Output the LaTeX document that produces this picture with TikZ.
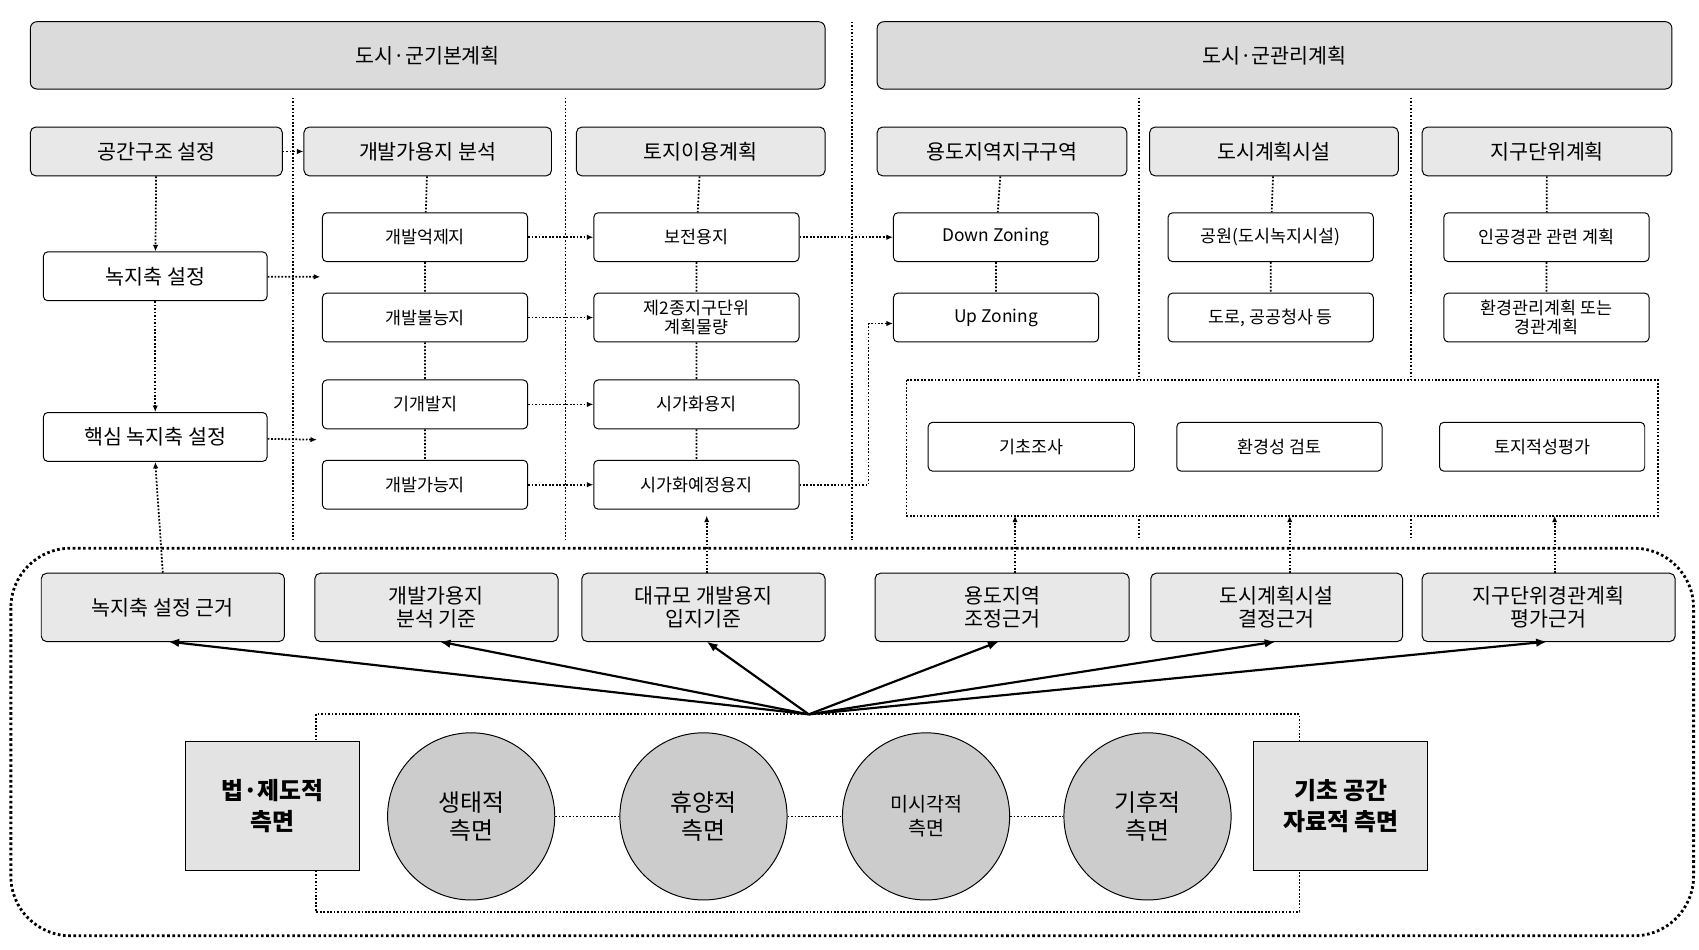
\documentclass[tikz,border=0pt]{standalone}
\usepackage{fontspec}
\setmainfont{Noto Sans CJK KR}
\usetikzlibrary{arrows.meta}
\newcommand{\B}[7]{\node[#7,minimum width={(#4)-(#2)},minimum height={(#5)-(#3)}] (#1) at ({((#2)+(#4))/2},{((#3)+(#5))/2}) {#6};}
\begin{document}
\begin{tikzpicture}[x=1pt,y=-1pt,
 hdr/.style={draw,rounded corners=6pt,fill=gray!28,inner sep=0,font=\fontsize{19}{22}\selectfont,line width=0.9pt},
 gb/.style={draw,rounded corners=5pt,fill=gray!18,inner sep=0,align=center,font=\fontsize{19}{21}\selectfont,line width=0.9pt},
 wb/.style={draw,rounded corners=4pt,fill=white,inner sep=0,align=center,font=\fontsize{16}{17}\selectfont,line width=0.9pt},
 wbl/.style={wb,font=\fontsize{19}{21}\selectfont},
 dl/.style={dash pattern=on 1.6pt off 1.6pt,line width=1.6pt},
 da/.style={dl,-{Latex[length=6pt,width=5pt]}},
 sa/.style={line width=2pt,-{Latex[length=10pt,width=8pt]}},
 circ/.style={draw,circle,fill=gray!40,minimum size=154pt,inner sep=0,align=center,font=\fontsize{22}{26}\selectfont,line width=0.9pt},
 sq/.style={draw,fill=gray!22,inner sep=0,align=center,font=\bfseries\fontsize{22}{28}\selectfont,line width=0.9pt}]
\useasboundingbox (0,0) rectangle (1565,875);
\draw[dl] (270,90)--(270,497); \draw[dl] (521,90)--(521,497); \draw[dl] (785,20)--(785,497);
\draw[dl] (1049,90)--(1049,350); \draw[dl] (1049,475)--(1049,497);
\draw[dl] (1300,90)--(1300,350); \draw[dl] (1300,475)--(1300,497);
\B{h1}{28}{20}{760}{82}{도시·군기본계획}{hdr}
\B{h2}{808}{20}{1540}{82}{도시·군관리계획}{hdr}
\B{a1}{28}{117}{260}{162}{공간구조 설정}{gb}
\B{a2}{280}{117}{508}{162}{개발가용지 분석}{gb}
\B{a3}{531}{117}{760}{162}{토지이용계획}{gb}
\B{a4}{808}{117}{1038}{162}{용도지역지구구역}{gb}
\B{a5}{1059}{117}{1288}{162}{도시계획시설}{gb}
\B{a6}{1310}{117}{1540}{162}{지구단위계획}{gb}
\draw[da] (a1)--(a2);
\B{l1}{40}{232}{246}{277}{녹지축 설정}{wbl}
\B{l2}{40}{380}{246}{425}{핵심 녹지축 설정}{wbl}
\draw[da] (a1)--(l1); \draw[da] (l1)--(l2);
\coordinate (p1) at (295,255); \coordinate (p2) at (292,405);
\draw[da] (l1)--(p1); \draw[da] (l2)--(p2);
\B{b1}{297}{196}{486}{241}{개발억제지}{wb}
\B{b2}{297}{270}{486}{315}{개발불능지}{wb}
\B{b3}{297}{350}{486}{395}{기개발지}{wb}
\B{b4}{297}{424}{486}{469}{개발가능지}{wb}
\B{c1}{547}{196}{736}{241}{보전용지}{wb}
\B{c2}{547}{270}{736}{315}{제2종지구단위\\계획물량}{wb}
\B{c3}{547}{350}{736}{395}{시가화용지}{wb}
\B{c4}{547}{424}{736}{469}{시가화예정용지}{wb}
\B{d1}{823}{196}{1012}{241}{Down Zoning}{wb}
\B{d2}{823}{270}{1012}{315}{Up Zoning}{wb}
\B{e1}{1076}{196}{1265}{241}{공원(도시녹지시설)}{wb}
\B{e2}{1076}{270}{1265}{315}{도로, 공공청사 등}{wb}
\B{f1}{1330}{196}{1519}{241}{인공경관 관련 계획}{wb}
\B{f2}{1330}{270}{1519}{315}{환경관리계획 또는\\경관계획}{wb}
\draw[dl] (a2)--(b1) (b1)--(b2) (b2)--(b3) (b3)--(b4);
\draw[dl] (a3)--(c1) (c1)--(c2) (c2)--(c3) (c3)--(c4);
\draw[dl] (a4)--(d1) (d1)--(d2);
\draw[dl] (a5)--(e1) (e1)--(e2);
\draw[dl] (a6)--(f1) (f1)--(f2);
\foreach \i in {1,2,3,4}{\draw[da] (b\i)--(c\i);}
\draw[da] (c1)--(d1);
\draw[da] (c4.east)--(800,446.5)--(800,298)--(d2.west|-800,298);
\draw[dl] (835,350) rectangle (1527,475);
\B{g1}{855}{389}{1045}{434}{기초조사}{wb}
\B{g2}{1084}{389}{1273}{434}{환경성 검토}{wb}
\B{g3}{1326}{389}{1515}{434}{토지적성평가}{wb}
\draw[dash pattern=on 2.4pt off 2.4pt,line width=2.6pt,rounded corners=55pt] (10,505) rectangle (1560,862);
\B{k1}{38}{528}{262}{591}{녹지축 설정 근거}{gb}
\B{k2}{290}{528}{514}{591}{개발가용지\\분석 기준}{gb}
\B{k3}{536}{528}{760}{591}{대규모 개발용지\\입지기준}{gb}
\B{k4}{806}{528}{1040}{591}{용도지역\\조정근거}{gb}
\B{k5}{1060}{528}{1292}{591}{도시계획시설\\결정근거}{gb}
\B{k6}{1310}{528}{1543}{591}{지구단위경관계획\\평가근거}{gb}
\draw[da] (k1.north)--(l2.south);
\coordinate (q3) at (651,475); \draw[da] (651,528)--(q3);
\coordinate (q4) at (935,475); \draw[da] (935,528)--(q4);
\coordinate (q5) at (1188,475); \draw[da] (1188,528)--(q5);
\coordinate (q6) at (1432,475); \draw[da] (1432,528)--(q6);
\coordinate (hub) at (745,658);
\draw[sa] (hub)--(155,591); \draw[sa] (hub)--(405,591); \draw[sa] (hub)--(651,591);
\draw[sa] (hub)--(920,591); \draw[sa] (hub)--(1175,591); \draw[sa] (hub)--(1425,591);
\draw[dl] (291,658) rectangle (1197,840);
\B{s1}{171}{683}{331}{802}{법·제도적\\측면}{sq}
\B{s2}{1155}{683}{1315}{802}{기초 공간\\자료적 측면}{sq}
\node[circ] (o1) at (434,752) {생태적\\측면};
\node[circ] (o2) at (648,752) {휴양적\\측면};
\node[circ,font=\fontsize{18}{22}\selectfont] (o3) at (853,752) {미시각적\\측면};
\node[circ] (o4) at (1057,752) {기후적\\측면};
\draw[dl] (o1)--(o2); \draw[dl] (o2)--(o3); \draw[dl] (o3)--(o4);
\end{tikzpicture}
\end{document}
